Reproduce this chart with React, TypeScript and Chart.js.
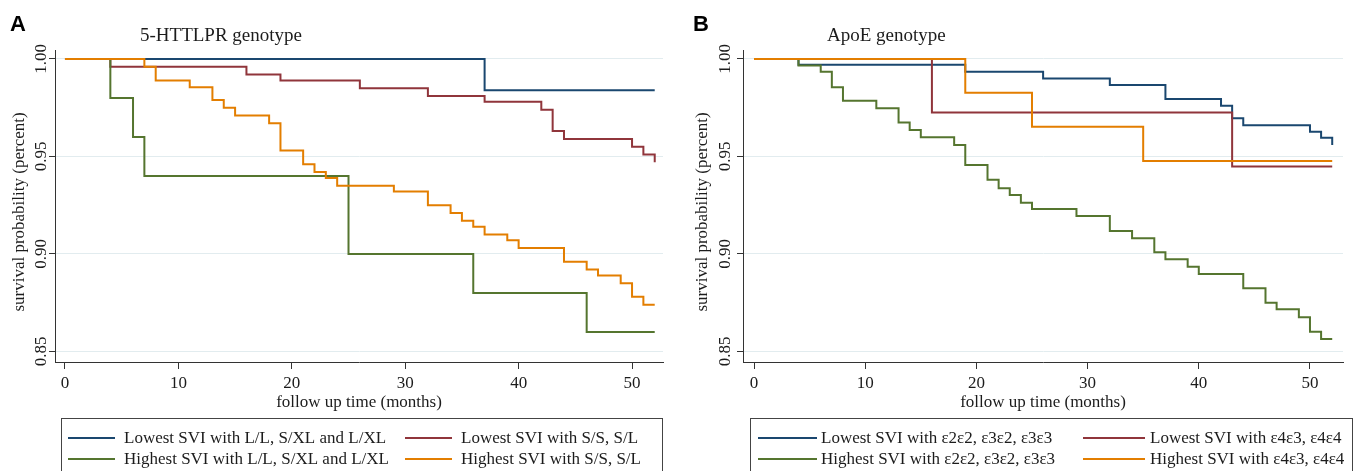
import React, { useEffect, useRef } from "react";
import { Chart, registerables } from "chart.js";

Chart.register(...registerables);

const SERIF = "'Liberation Serif', 'Times New Roman', serif";
const SANS = "'Liberation Sans', Arial, sans-serif";
const TEXT = "#1c1c1c";

// ---------- shared axis data ----------
const xTicks = [0, 10, 20, 30, 40, 50];
const xTitle = "follow up time (months)";
const yTicks = [0.85, 0.9, 0.95, 1.0];
const yTickLabels = ["0.85", "0.90", "0.95", "1.00"];
const yTitle = "survival probability (percent)";

// ---------- Panel A: 5-HTTLPR genotype ----------
const aTitle = "5-HTTLPR genotype";
const aLabels = [
  "Lowest SVI with L/L, S/XL and L/XL",
  "Lowest SVI with S/S, S/L",
  "Highest SVI with L/L, S/XL and L/XL",
  "Highest SVI with S/S, S/L",
];
const aLowLLTime = [0, 37, 52];
const aLowLLSurv = [1, 0.984, 0.984];
const aLowSSTime = [0, 4, 16, 19, 26, 32, 37, 42, 43, 44, 50, 51, 52];
const aLowSSSurv = [1, 0.996, 0.992, 0.989, 0.985, 0.981, 0.978, 0.974, 0.963, 0.959, 0.955, 0.951, 0.947];
const aHighLLTime = [0, 4, 6, 7, 25, 36, 46, 52];
const aHighLLSurv = [1, 0.98, 0.96, 0.94, 0.9, 0.88, 0.86, 0.86];
const aHighSSTime = [0, 7, 8, 11, 13, 14, 15, 18, 19, 21, 22, 23, 24, 29, 32, 34, 35, 36, 37, 39, 40, 44, 46, 47, 49, 50, 51, 52];
const aHighSSSurv = [1, 0.996, 0.989, 0.9855, 0.979, 0.975, 0.971, 0.967, 0.953, 0.946, 0.942, 0.939, 0.935, 0.932, 0.925, 0.921, 0.917, 0.914, 0.91, 0.907, 0.903, 0.896, 0.892, 0.889, 0.885, 0.878, 0.874, 0.874];

// ---------- Panel B: ApoE genotype ----------
const bTitle = "ApoE genotype";
const bLabels = [
  "Lowest SVI with ε2ε2, ε3ε2, ε3ε3",
  "Lowest SVI with ε4ε3, ε4ε4",
  "Highest SVI with ε2ε2, ε3ε2, ε3ε3",
  "Highest SVI with ε4ε3, ε4ε4",
];
const bLowE3Time = [0, 4, 19, 26, 32, 37, 42, 43, 44, 50, 51, 52];
const bLowE3Surv = [1, 0.997, 0.9935, 0.99, 0.9867, 0.9795, 0.976, 0.9696, 0.966, 0.9627, 0.9596, 0.9559];
const bLowE4Time = [0, 16, 43, 52];
const bLowE4Surv = [1, 0.9725, 0.9448, 0.9448];
const bHighE3Time = [0, 4, 6, 7, 8, 11, 13, 14, 15, 18, 19, 21, 22, 23, 24, 25, 29, 32, 34, 36, 37, 39, 40, 44, 46, 47, 49, 50, 51, 52];
const bHighE3Surv = [1, 0.9966, 0.9935, 0.9855, 0.9786, 0.9747, 0.9674, 0.9636, 0.9598, 0.9559, 0.9456, 0.938, 0.9337, 0.9303, 0.9263, 0.923, 0.9195, 0.9118, 0.908, 0.9009, 0.8973, 0.8935, 0.8897, 0.8824, 0.875, 0.8716, 0.8675, 0.8601, 0.8564, 0.8564];
const bHighE4Time = [0, 19, 25, 35, 52];
const bHighE4Surv = [1, 0.9827, 0.9653, 0.9477, 0.9477];

const COLORS = ["#1a476f", "#90353b", "#55752f", "#e37e00"];
const DRAW_ORDER = [4, 3, 2, 1]; // orange on top

type PanelCfg = {
  letter: string;
  title: string;
  labels: string[];
  times: number[][];
  survs: number[][];
  left: number;
  axisX: number;
  plotRight: number;
  xMin: number;
  xMax: number;
  yTitleX: number;
  yLabelX: number;
  letterX: number;
  titleX: number;
  box: [number, number];
  col1: [number, number, number];
  col2: [number, number, number];
};

const W = 681;
const H = 471;
const TOP = 50;
const BOTTOM = 362;
const Y_TITLE_CENTER = 212;

function Panel({ cfg }: { cfg: PanelCfg }) {
  const ref = useRef<HTMLCanvasElement>(null);
  useEffect(() => {
    const canvas = ref.current!;
    const decor = {
      id: "decor",
      afterDraw(chart: any) {
        const ctx = chart.ctx as CanvasRenderingContext2D;
        const ys = chart.scales.y;
        ctx.save();
        ctx.fillStyle = TEXT;
        ctx.font = `17px ${SERIF}`;
        ctx.textAlign = "center";
        ctx.textBaseline = "middle";
        yTicks.forEach((v, i) => {
          const py = ys.getPixelForValue(v);
          ctx.save();
          ctx.translate(cfg.yLabelX, py);
          ctx.rotate(-Math.PI / 2);
          ctx.fillText(yTickLabels[i], 0, 0);
          ctx.restore();
        });
        ctx.save();
        ctx.translate(cfg.yTitleX, Y_TITLE_CENTER);
        ctx.rotate(-Math.PI / 2);
        ctx.fillText(yTitle, 0, 0);
        ctx.restore();
        ctx.textAlign = "left";
        ctx.textBaseline = "alphabetic";
        ctx.fillStyle = "#000";
        ctx.font = `bold 22px ${SANS}`;
        ctx.fillText(cfg.letter, cfg.letterX, 31);
        ctx.fillStyle = TEXT;
        ctx.font = `19px ${SERIF}`;
        ctx.fillText(cfg.title, cfg.titleX, 41);
        // legend
        ctx.strokeStyle = "#444";
        ctx.lineWidth = 1;
        ctx.strokeRect(cfg.box[0] + 0.5, 418.5, cfg.box[1] - cfg.box[0], 70);
        ctx.font = `17px ${SERIF}`;
        ctx.textBaseline = "middle";
        const rows = [438, 459];
        cfg.labels.forEach((lab, i) => {
          const col = i % 2 === 0 ? cfg.col1 : cfg.col2;
          const y = rows[Math.floor(i / 2)];
          ctx.strokeStyle = COLORS[i];
          ctx.lineWidth = 2;
          ctx.beginPath();
          ctx.moveTo(col[0], y);
          ctx.lineTo(col[1], y);
          ctx.stroke();
          ctx.fillStyle = TEXT;
          ctx.fillText(lab, col[2], y + 1);
        });
        ctx.restore();
      },
    };
    const datasets = cfg.labels.map((lab, i) => ({
      label: lab,
      data: cfg.times[i].map((t, j) => ({ x: t, y: cfg.survs[i][j] })),
      borderColor: COLORS[i],
      backgroundColor: COLORS[i],
      borderWidth: 2,
      pointRadius: 0,
      fill: false,
      stepped: "before" as const,
      order: DRAW_ORDER[i],
    }));
    const chart = new Chart(canvas, {
      type: "line",
      data: { datasets },
      options: {
        animation: false,
        responsive: false,
        devicePixelRatio: 1,
        events: [],
        layout: {
          padding: { left: 0, top: TOP, right: W - cfg.plotRight, bottom: H - BOTTOM - 49 },
        },
        plugins: { legend: { display: false }, tooltip: { enabled: false }, title: { display: false } },
        scales: {
          x: {
            type: "linear",
            min: cfg.xMin,
            max: cfg.xMax,
            afterBuildTicks: (s: any) => {
              s.ticks = xTicks.map((v) => ({ value: v }));
            },
            afterFit: (s: any) => {
              s.height = 49;
            },
            grid: { drawOnChartArea: false, drawTicks: true, tickLength: 7, tickColor: "#333", tickWidth: 1 },
            border: { display: true, color: "#333", width: 1 },
            ticks: {
              font: { size: 17, family: SERIF },
              color: TEXT,
              padding: 4,
              maxRotation: 0,
              autoSkip: false,
              callback: (v: any) => String(v),
            },
            title: {
              display: true,
              text: xTitle,
              font: { size: 17, family: SERIF, lineHeight: 1 },
              color: TEXT,
              padding: 0,
            },
          },
          y: {
            type: "linear",
            min: 0.8446,
            max: 1.0046,
            afterBuildTicks: (s: any) => {
              s.ticks = yTicks.map((v) => ({ value: v }));
            },
            afterFit: (s: any) => {
              s.width = cfg.axisX;
            },
            grid: { color: "#e2ecef", lineWidth: 1, drawTicks: true, tickLength: 6, tickColor: "#333" },
            border: { display: true, color: "#333", width: 1 },
            ticks: { display: false },
            title: { display: false },
          },
        },
      },
      plugins: [decor],
    } as any);
    return () => chart.destroy();
  }, [cfg]);
  return (
    <canvas
      ref={ref}
      width={W}
      height={H}
      style={{ position: "absolute", left: cfg.left, top: 0, width: W, height: H }}
    />
  );
}

const panelA: PanelCfg = {
  letter: "A",
  title: aTitle,
  labels: aLabels,
  times: [aLowLLTime, aLowSSTime, aHighLLTime, aHighSSTime],
  survs: [aLowLLSurv, aLowSSSurv, aHighLLSurv, aHighSSSurv],
  left: 0,
  axisX: 55,
  plotRight: 663,
  xMin: -0.88,
  xMax: 52.73,
  yTitleX: 20,
  yLabelX: 41.5,
  letterX: 10,
  titleX: 140,
  box: [61, 662],
  col1: [68, 115, 124],
  col2: [405, 452, 461],
};

const panelB: PanelCfg = {
  letter: "B",
  title: bTitle,
  labels: bLabels,
  times: [bLowE3Time, bLowE4Time, bHighE3Time, bHighE4Time],
  survs: [bLowE3Surv, bLowE4Surv, bHighE3Surv, bHighE4Surv],
  left: 681,
  axisX: 62,
  plotRight: 662,
  xMin: -0.99,
  xMax: 52.97,
  yTitleX: 22,
  yLabelX: 45,
  letterX: 12,
  titleX: 146,
  box: [69, 671],
  col1: [77, 136, 140],
  col2: [402, 464, 469],
};

export default function App() {
  return (
    <div style={{ position: "fixed", left: 0, top: 0, width: 1362, height: 471, background: "#fff", overflow: "hidden" }}>
      <Panel cfg={panelA} />
      <Panel cfg={panelB} />
    </div>
  );
}
